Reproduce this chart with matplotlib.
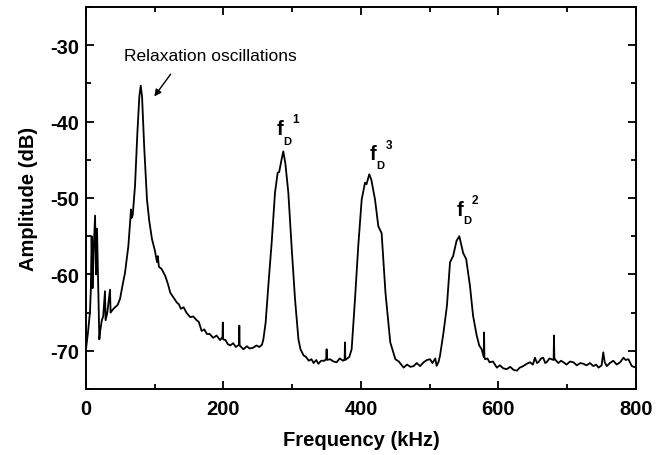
import matplotlib
matplotlib.use('Agg')
import matplotlib.pyplot as plt
from matplotlib.ticker import MultipleLocator

plt.rcParams['font.family'] = ['Liberation Sans', 'DejaVu Sans']
plt.rcParams['axes.unicode_minus'] = False

# Spectrum, (kHz, dB) pairs, split by region
low_band = [
    (0, -69.8), (3, -67.5), (5.8, -64.9), (7, -62), (8.2, -55.0), (9.5, -61.8),
    (11, -57), (13.2, -52.3), (14.5, -60), (16, -54), (19.4, -68.5), (20.5, -67.5),
    (23, -66), (25, -65.5), (27.6, -62.2), (28.5, -66), (31, -65), (34.9, -62.0),
    (35.8, -65), (39, -64.6), (42.2, -64.3), (46, -64.0), (49.5, -63.2), (53, -61.5),
    (56.7, -59.8), (61.6, -56.3), (65.5, -51.5), (66.5, -52.6), (68, -52.2),
]
relax_peak = [
    (71.3, -48.4), (74.7, -41.5), (77.6, -36.7), (79.6, -35.3), (81.5, -36.7),
    (84.8, -43.6), (88.7, -50.2), (92, -53), (96, -55.4), (100, -56.8),
    (103.3, -58.4), (104.5, -57.6), (106, -59), (110, -59.3), (115.3, -60.2),
    (119, -61.2), (122.6, -62.4), (127, -63.0), (132.3, -63.7), (135, -63.9),
    (138, -64.5), (142, -64.3), (146, -65.0), (151.7, -65.6), (156, -65.5),
    (161, -66), (164, -66.2), (168.2, -67.4), (172, -67.2), (176, -67.8),
    (180, -67.8), (185, -68.3), (190, -68.0), (195, -68.6), (198.5, -68.2),
    (199, -66.3), (199.5, -68.5), (203, -68.6), (206, -69.1), (209.9, -69.3),
    (214, -69.0), (218, -69.5), (222.5, -69.2), (223, -66.7), (223.5, -69.3),
    (229, -69.8), (234, -69.4), (238, -69.7), (243, -69.6), (248, -69.3),
    (252, -69.5), (256, -69.2),
]
peak_fd1 = [
    (258, -68.5), (261.3, -66.3), (265.2, -61.5), (270.1, -55.8), (274.9, -49.3),
    (278.8, -46.7), (281, -46.6), (284.6, -44.9), (287, -43.9), (290, -45.5),
    (294.3, -49.3), (299.3, -56.7), (304, -63.2), (309, -68.5), (312, -69.8),
    (316.5, -70.6), (320, -70.8), (324, -71.3), (328, -71.1), (331, -71.6),
    (335, -71.2), (338, -71.7), (342, -71.3), (347, -71.3), (349.5, -71.0),
    (350, -69.8), (350.5, -71.2), (355, -71.1), (360, -71.4), (364.6, -71.5),
    (369, -71.0), (374, -71.3), (376.2, -71.1), (376.7, -68.9), (377.2, -71.2),
    (378.7, -71.1), (383, -70.8),
]
peak_fd3 = [
    (386.4, -69.8), (391.3, -63.2), (396, -56.3), (401, -50.2), (405.8, -48.0),
    (408, -48.2), (412, -46.9), (415, -47.6), (420.4, -50.2), (425.2, -53.7),
    (430, -54.6), (435.6, -62.4), (442.6, -68.9), (450, -71.1), (455, -71.4),
    (462, -72.2), (467, -71.8), (472, -72.1), (476.6, -72.0), (481, -71.6),
    (486, -72.0), (491, -71.5), (496, -71.2), (500.4, -71.1), (504, -71.6),
    (508, -71.0), (510, -71.96), (513, -71.4), (515, -70.6),
]
peak_fd2 = [
    (520, -67.6), (525, -64.1), (529.5, -58.4), (534, -57.6), (539, -55.6),
    (543, -55.0), (548.6, -57.2), (553, -58.0), (558.5, -61.5), (563, -65.4),
    (568.3, -68.0), (572, -69.3), (575.5, -69.8), (578.5, -70.8), (579, -67.6),
    (579.5, -70.8), (580.4, -71.1), (584, -71.0), (587, -71.5), (592, -71.4),
]
high_band = [
    (597.6, -72.2), (602, -71.9), (607, -72.3), (612, -72.4), (617, -72.1),
    (622, -72.5), (626.6, -72.6), (631, -72.2), (636, -72.0), (641, -71.7),
    (645.8, -71.5), (650, -71.8), (653, -70.9), (656, -71.6), (658, -71.5),
    (662, -71.0), (665, -70.9), (668, -71.6), (670, -71.5), (674, -71.0),
    (680.2, -71.2), (680.7, -68.0), (681.3, -71.1), (682, -71.1), (687, -71.6),
    (691, -71.3), (694.5, -71.5), (699, -71.8), (704, -71.4), (709, -71.5),
    (714, -71.9), (719, -71.6), (723.6, -71.7), (728, -71.9), (733, -71.6),
    (738, -72.0), (742, -71.8), (745.5, -72.2), (750, -71.9), (752.4, -70.2),
    (754.5, -71.5), (757.6, -72.0), (762, -71.6), (767, -71.3), (772, -71.8),
    (777, -71.5), (781.8, -70.9), (785, -71.2), (789, -71.1), (793.9, -72.0),
    (800, -72.2),
]

# Peak labels: (f position, D position, superscript position, order)
peak_labels = [
    ((282.2, -40.9), (293, -42.5), (304.4, -39.6), '1'),
    ((418, -44.2), (428.6, -45.7), (440.3, -43.1), '3'),
    ((544, -51.5), (554, -52.9), (566.3, -50.3), '2'),
]

spectrum = low_band + relax_peak + peak_fd1 + peak_fd3 + peak_fd2 + high_band
freq = [p[0] for p in spectrum]
amp = [p[1] for p in spectrum]

fig = plt.figure(figsize=(6.56, 4.56), dpi=100)
ax = fig.add_axes([0.1311, 0.1447, 0.8384, 0.8378])

ax.plot(freq, amp, color='black', linewidth=1.3)

ax.set_xlim(0, 800)
ax.set_ylim(-75, -25)
ax.xaxis.set_major_locator(MultipleLocator(200))
ax.xaxis.set_minor_locator(MultipleLocator(100))
ax.yaxis.set_major_locator(MultipleLocator(10))
ax.yaxis.set_minor_locator(MultipleLocator(5))
ax.tick_params(which='both', direction='in', top=True, right=True, width=1.3)
ax.tick_params(which='major', length=6, labelsize=14.5)
ax.tick_params(which='minor', length=3.5)
ax.tick_params(axis='x', which='major', pad=7)
ax.tick_params(axis='y', which='major', pad=5)
for lbl in ax.get_xticklabels() + ax.get_yticklabels():
    lbl.set_fontweight('bold')
for sp in ax.spines.values():
    sp.set_linewidth(1.4)

ax.set_xlabel('Frequency (kHz)', fontsize=14.5, fontweight='bold', labelpad=9)
ax.set_ylabel('Amplitude (dB)', fontsize=14.5, fontweight='bold', labelpad=9)

ax.text(180.4, -31.9, 'Relaxation oscillations', fontsize=12.5, ha='center', va='baseline')
ax.annotate('', xy=(97, -37.0), xytext=(125.5, -33.5),
            arrowprops=dict(arrowstyle='-|>', color='black', lw=1.0, mutation_scale=10))

for fpos, dpos, spos, order in peak_labels:
    ax.text(fpos[0], fpos[1], 'f', fontsize=14.5, fontweight='bold', ha='center', va='center')
    ax.text(dpos[0], dpos[1], 'D', fontsize=8, fontweight='bold', ha='center', va='center')
    ax.text(spos[0], spos[1], order, fontsize=8.5, fontweight='bold', ha='center', va='center')

fig.savefig('out.png', dpi=100)
